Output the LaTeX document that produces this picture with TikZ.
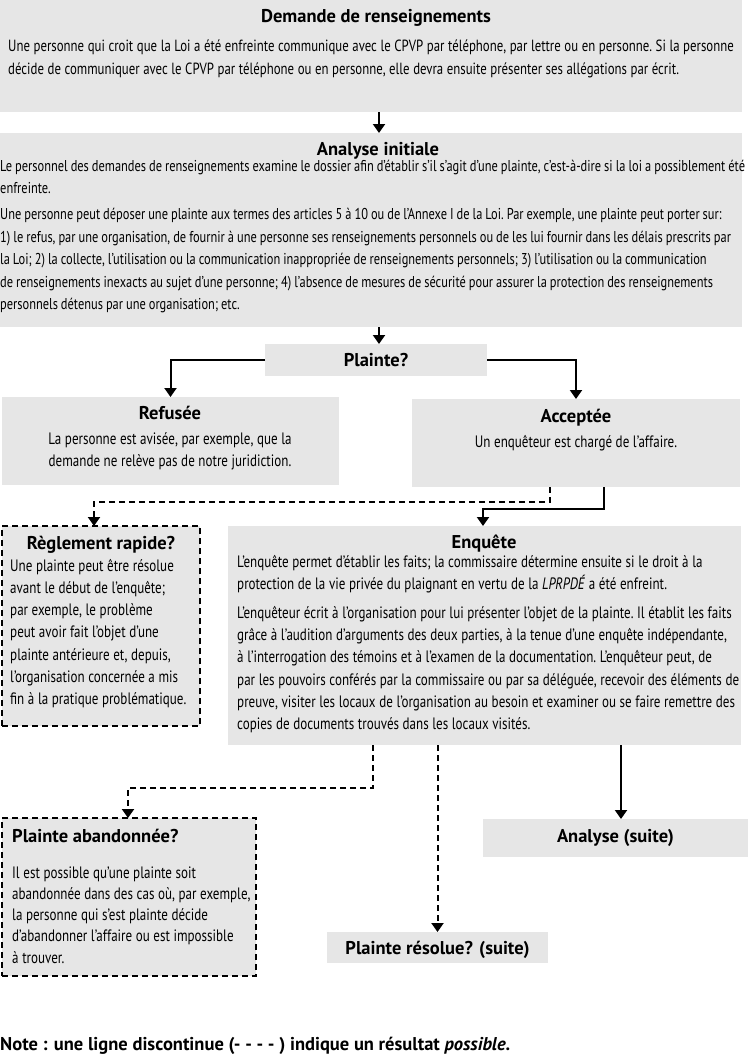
\documentclass[tikz,border=0pt]{standalone}
\usepackage{fontspec}
\setmainfont{PT Sans}[FakeStretch=0.79]
\newfontfamily\ttlfont{PT Sans}
\usetikzlibrary{arrows.meta,calc}
\definecolor{boxgray}{RGB}{230,230,230}
\newcommand{\bodyfont}{\fontsize{16.5}{22.3}\selectfont}
\newcommand{\tightsp}{\spaceskip=3.6pt\xspaceskip=3.6pt\relax}
\newcommand{\tightersp}{\spaceskip=3pt\xspaceskip=3pt\relax}
\begin{document}
\begin{tikzpicture}[x=1pt,y=-1pt,
  box/.style={fill=boxgray,draw=none,inner sep=0,outer sep=0},
  dbox/.style={fill=boxgray,draw=black,line width=2pt,dash pattern=on 6pt off 4pt,inner sep=0,outer sep=0},
  ttl/.style={font=\ttlfont\bfseries\fontsize{18.5}{22}\selectfont,inner sep=0,anchor=base},
  ttlw/.style={ttl,anchor=base west},
  body/.style={font=\bodyfont,inner sep=0,align=left,anchor=base west,text width=820,execute at begin node=\tightsp},
  bodyc/.style={font=\bodyfont,inner sep=0,align=center,anchor=base,execute at begin node=\tightsp},
  arr/.style={line width=2pt,-{Triangle[width=12pt,length=9pt]}},
  darr/.style={arr,dash pattern=on 6pt off 4pt},
]
\useasboundingbox (0,0) rectangle (750,1057);

% boxes
\node[box,minimum width=742,minimum height=112] (demande) at (371,56) {};
\node[box,minimum width=742,minimum height=194] (analyse) at (371,230) {};
\node[box,minimum width=222,minimum height=32] (plainte) at (376,360) {};
\node[box,minimum width=337,minimum height=88] (refusee) at (170.5,441) {};
\node[box,minimum width=328,minimum height=88] (acceptee) at (576,443) {};
\node[dbox,minimum width=198,minimum height=200] (reglement) at (101,626) {};
\node[box,minimum width=513,minimum height=219] (enquete) at (484.5,635.5) {};
\node[dbox,minimum width=254,minimum height=158] (abandon) at (129,897) {};
\node[box,minimum width=221,minimum height=31] (resolue) at (437.5,947.5) {};
\node[box,minimum width=265,minimum height=38] (suite) at (615.5,838) {};

% texts
\node[ttl] (t1) at (376,23) {Demande de renseignements};
\node[body,font=\fontsize{16.2}{22.8}\selectfont] (b1) at (8,52) {Une personne qui croit que la Loi a été enfreinte communique avec le CPVP par téléphone, par lettre ou en personne. Si la personne\\
décide de communiquer avec le CPVP par téléphone ou en personne, elle devra ensuite présenter ses allégations par écrit.};

\node[ttl] (t2) at (378,155) {Analyse initiale};
\node[body,font=\fontsize{15.7}{22.4}\selectfont,execute at begin node=\tightersp] (b2) at (0,171) {Le personnel des demandes de renseignements examine le dossier afin d’établir s’il s’agit d’une plainte, c’est-à-dire si la loi a possiblement été\\
enfreinte.\\[4pt]
Une personne peut déposer une plainte aux termes des articles 5 à 10 ou de l’Annexe I de la Loi. Par exemple, une plainte peut porter sur:\\
1) le refus, par une organisation, de fournir à une personne ses renseignements personnels ou de les lui fournir dans les délais prescrits par\\
la Loi; 2) la collecte, l’utilisation ou la communication inappropriée de renseignements personnels; 3) l’utilisation ou la communication\\
de renseignements inexacts au sujet d’une personne; 4) l’absence de mesures de sécurité pour assurer la protection des renseignements\\
personnels détenus par une organisation; etc.};

\node[ttl] (t3) at (376,366) {Plainte?};

\node[ttl] (t4) at (170,419) {Refusée};
\node[bodyc] (b4) at (170,466.3) {\tightsp La personne est avisée, par exemple, que la\\
\tightsp demande ne relève pas de notre juridiction.};

\node[ttl] (t5) at (576,422) {Acceptée};
\node[bodyc] (b5) at (576,447) {\tightsp Un enquêteur est chargé de l’affaire.};

\node[ttl] (t6) at (101,549) {Règlement rapide?};
\node[body] (b6) at (10,571) {Une plainte peut être résolue\\
avant le début de l’enquête;\\
par exemple, le problème\\
peut avoir fait l’objet d’une\\
plainte antérieure et, depuis,\\
l’organisation concernée a mis\\
fin à la pratique problématique.};

\node[ttl] (t7) at (484,548) {Enquête};
\node[body] (b7) at (237,567) {L’enquête permet d’établir les faits; la commissaire détermine ensuite si le droit à la\\
protection de la vie privée du plaignant en vertu de la \textit{LPRPDÉ} a été enfreint.\\[6.5pt]
L’enquêteur écrit à l’organisation pour lui présenter l’objet de la plainte. Il établit les faits\\
grâce à l’audition d’arguments des deux parties, à la tenue d’une enquête indépendante,\\
à l’interrogation des témoins et à l’examen de la documentation. L’enquêteur peut, de\\
par les pouvoirs conférés par la commissaire ou par sa déléguée, recevoir des éléments de\\
preuve, visiter les locaux de l’organisation au besoin et examiner ou se faire remettre des\\
copies de documents trouvés dans les locaux visités.};

\node[ttlw] (t8) at (12,842) {Plainte abandonnée?};
\node[body,font=\fontsize{16.5}{21.3}\selectfont] (b8) at (12,878) {Il est possible qu’une plainte soit\\
abandonnée dans des cas où, par exemple,\\
la personne qui s’est plainte décide\\
d’abandonner l’affaire ou est impossible\\
à trouver.};

\node[ttl] (t9) at (437.5,954) {Plainte résolue? (suite)};
\node[ttl] (t10) at (615.5,842) {Analyse (suite)};

\node[inner sep=0,anchor=base west,font=\ttlfont\bfseries\fontsize{18.5}{22}\selectfont] (note) at (0,1050) {Note : une ligne discontinue (- - - - ) indique un résultat \textit{possible}.};

% connectors
\draw[arr] ([xshift=8pt]demande.south) -- ([xshift=8pt]analyse.north);
\draw[arr] ([xshift=8pt]analyse.south) -- ([xshift=3pt]plainte.north);
\draw[arr] (plainte.west) -| (refusee.north);
\draw[arr] (plainte.east) -| (acceptee.north);
\draw[darr] ([xshift=-26pt]acceptee.south) -- ++(0,15) -| ([xshift=-7pt]reglement.north);
\draw[arr] ([xshift=28pt]acceptee.south) -- ++(0,22) -| ([xshift=-1.5pt]enquete.north);
\draw[darr] ([xshift=-111.5pt]enquete.south) -- ++(0,43) -| ([xshift=-1pt]abandon.north);
\draw[darr] (resolue.north |- enquete.south) -- (resolue.north);
\draw[arr] ([xshift=5.5pt]suite.north |- enquete.south) -- ([xshift=5.5pt]suite.north);
\end{tikzpicture}
\end{document}
